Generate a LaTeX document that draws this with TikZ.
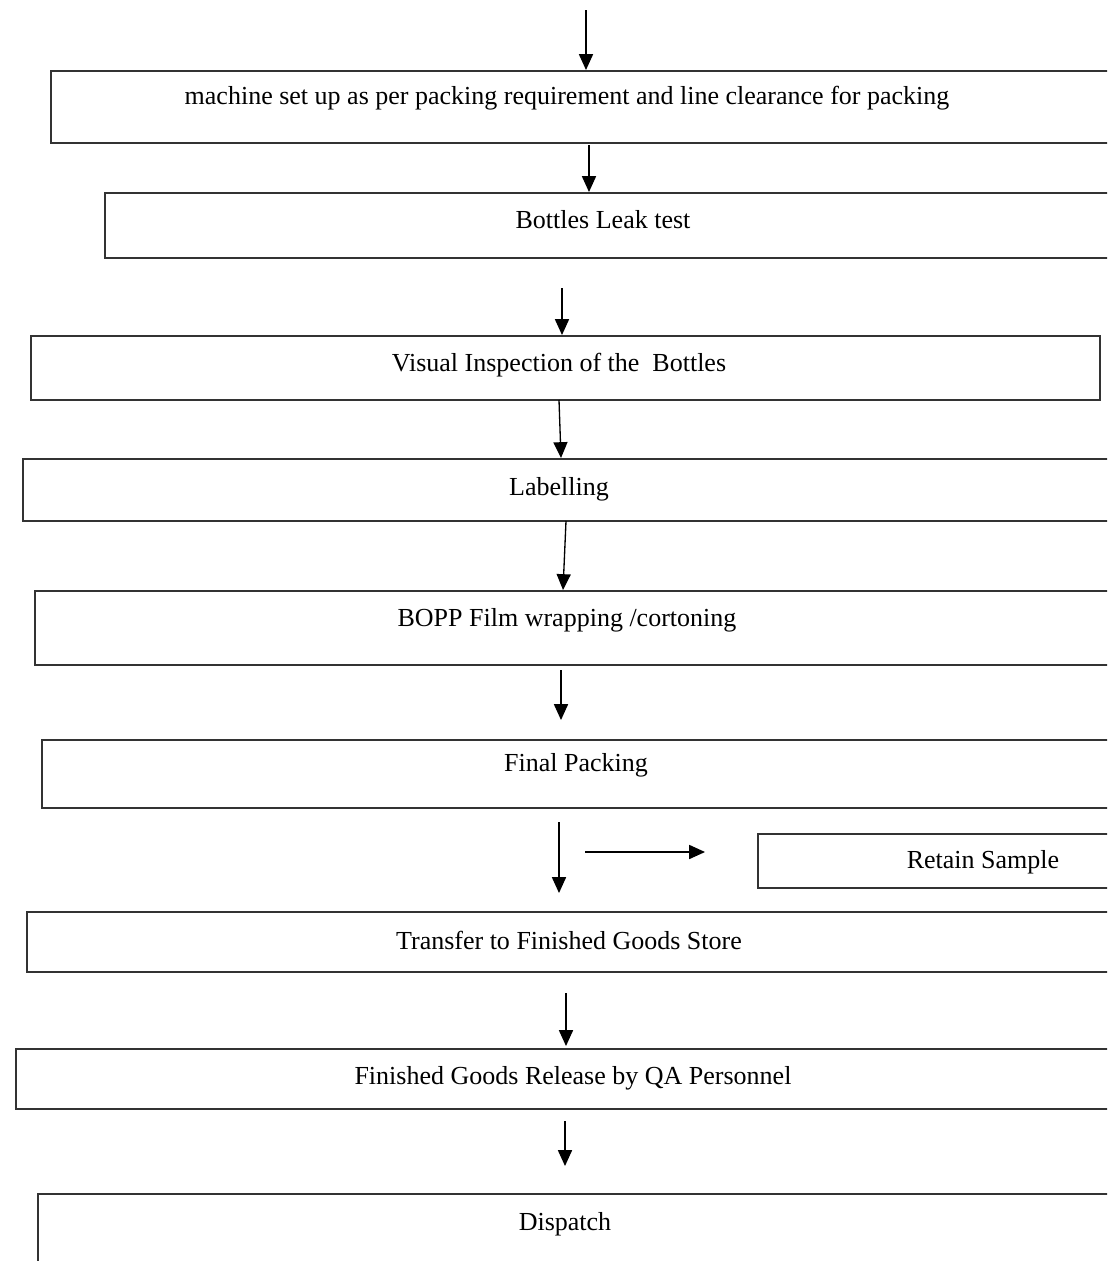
\documentclass[tikz,border=0pt]{standalone}
\usepackage{fontspec}
\setmainfont{Liberation Serif}
\usetikzlibrary{arrows.meta}

\tikzset{
  box/.style={draw=black!80, line width=1.1pt, rectangle, anchor=north west, inner sep=0pt},
  lbl/.style={inner sep=0pt, font=\fontsize{14.8}{17}\selectfont},
  flow/.style={line width=0.75pt, -{Triangle[length=9pt,width=8pt]}}
}

\begin{document}
\begin{tikzpicture}[x=0.02cm, y=-0.02cm]
        \useasboundingbox (0,0) rectangle (1107,1261);
        \clip (0,0) rectangle (1107,1261);

        % Boites (le bord droit sort de l'image)
        \node[box, minimum width=1100*0.02cm, minimum height=72*0.02cm] (setup) at (50,70) {};
        \node[box, minimum width=1050*0.02cm, minimum height=65*0.02cm] (leak) at (104,192) {};
        \node[box, minimum width=1069*0.02cm, minimum height=64*0.02cm] (visual) at (30,335) {};
        \node[box, minimum width=1100*0.02cm, minimum height=62*0.02cm] (label) at (22,458) {};
        \node[box, minimum width=1100*0.02cm, minimum height=74*0.02cm] (bopp) at (34,590) {};
        \node[box, minimum width=1100*0.02cm, minimum height=68*0.02cm] (final) at (41,739) {};
        \node[box, minimum width=400*0.02cm, minimum height=54*0.02cm] (retain) at (757,833) {};
        \node[box, minimum width=1100*0.02cm, minimum height=60*0.02cm] (store) at (26,911) {};
        \node[box, minimum width=1100*0.02cm, minimum height=60*0.02cm] (release) at (15,1048) {};
        \node[box, minimum width=1100*0.02cm, minimum height=120*0.02cm] (dispatch) at (37,1193) {};

        % Textes
        \node[lbl] (tsetup) at (567,98) {machine set up as per packing requirement and line clearance for packing};
        \node[lbl] (tleak) at (603,220) {Bottles Leak test};
        \node[lbl] (tvisual) at (559,365) {Visual Inspection of the\ \ Bottles};
        \node[lbl] (tlabel) at (559,489) {Labelling};
        \node[lbl] (tbopp) at (567,620) {BOPP Film wrapping /cortoning};
        \node[lbl] (tfinal) at (576,765) {Final Packing};
        \node[lbl] (tretain) at (983,862) {Retain Sample};
        \node[lbl] (tstore) at (569,940) {Transfer to Finished Goods Store};
        \node[lbl] (trelease) at (573,1078) {Finished Goods Release by QA Personnel};
        \node[lbl] (tdispatch) at (565,1224) {Dispatch};

        % Depart des fleches
        \coordinate (a0) at (586,10);
        \coordinate (a1) at (589,145);
        \coordinate (a2) at (562,288);
        \coordinate (a3) at (559,400);
        \coordinate (a4) at (566,521);
        \coordinate (a5) at (561,670);
        \coordinate (a6) at (559,822);
        \coordinate (s0) at (585,852);
        \coordinate (s1) at (705,852);
        \coordinate (a7) at (566,993);
        \coordinate (a8) at (565,1121);

        % Fleches
        \draw[flow] (a0) -- (a0 |- setup.north);
        \draw[flow] (a1) -- (a1 |- leak.north);
        \draw[flow] (a2) -- (a2 |- visual.north);
        \draw[flow] (a3) -- (561,458);
        \draw[flow] (a4) -- (563,590);
        \draw[flow] (a5) -- (a5 |- 0,720);
        \draw[flow] (a6) -- (a6 |- 0,893);
        \draw[flow] (s0) -- (s1);
        \draw[flow] (a7) -- (a7 |- 0,1046);
        \draw[flow] (a8) -- (a8 |- 0,1166);
    \end{tikzpicture}
\end{document}
